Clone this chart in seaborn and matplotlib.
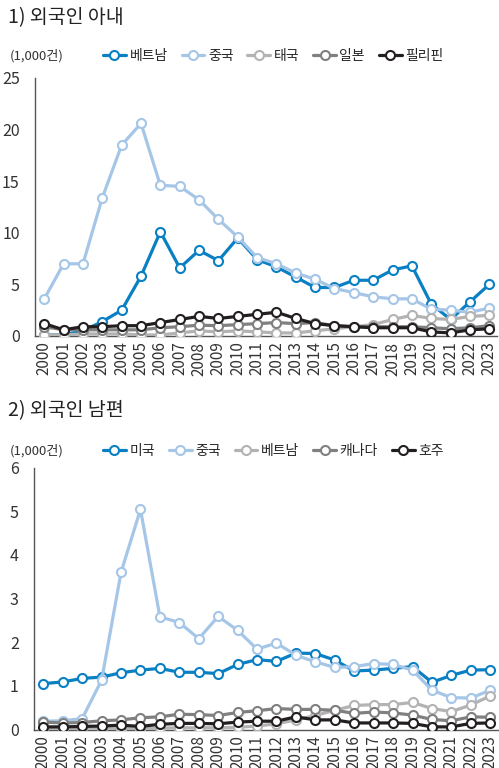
import numpy as np
import pandas as pd
import seaborn as sns
import matplotlib.pyplot as plt

# Data (단위: 1,000건)
years = list(range(2000, 2024))
year_labels = [str(y) for y in years]

wife_names = ['베트남', '중국', '태국', '일본', '필리핀']
wife_vietnam = [0.1, 0.1, 0.5, 1.4, 2.5, 5.8, 10.1, 6.6, 8.3, 7.3, 9.5, 7.4,
                6.7, 5.7, 4.7, 4.7, 5.4, 5.4, 6.4, 6.8, 3.1, 1.6, 3.3, 5.0]
wife_china = [3.6, 7.0, 7.0, 13.4, 18.5, 20.6, 14.6, 14.5, 13.2, 11.3, 9.6, 7.6,
              7.0, 6.1, 5.5, 4.6, 4.2, 3.8, 3.6, 3.6, 2.6, 2.5, 2.3, 2.7]
wife_thai = [0.1, 0.1, 0.2, 0.2, 0.2, 0.1, 0.1, 0.3, 0.5, 0.4, 0.5, 0.4,
             0.3, 0.3, 0.5, 0.7, 0.9, 1.1, 1.6, 2.0, 1.7, 1.6, 1.9, 2.0]
wife_japan = [0.9, 0.6, 0.6, 0.6, 0.6, 0.6, 0.8, 0.9, 1.05, 1.0, 1.1, 1.2,
              1.3, 1.2, 1.3, 1.0, 0.9, 0.9, 0.9, 0.9, 0.8, 0.7, 0.8, 1.0]
wife_philippines = [1.2, 0.6, 0.9, 0.9, 1.0, 1.0, 1.3, 1.6, 1.9, 1.7, 1.9, 2.1,
                    2.3, 1.7, 1.2, 1.0, 0.9, 0.8, 0.8, 0.8, 0.4, 0.3, 0.6, 0.7]

husband_names = ['미국', '중국', '베트남', '캐나다', '호주']
husband_usa = [1.05, 1.09, 1.17, 1.20, 1.30, 1.36, 1.40, 1.31, 1.31, 1.28, 1.49, 1.60,
               1.56, 1.75, 1.74, 1.59, 1.34, 1.36, 1.40, 1.44, 1.08, 1.24, 1.36, 1.37]
husband_china = [0.19, 0.20, 0.25, 1.13, 3.60, 5.04, 2.58, 2.45, 2.08, 2.59, 2.27, 1.84,
                 1.98, 1.70, 1.55, 1.42, 1.44, 1.51, 1.49, 1.36, 0.90, 0.73, 0.72, 0.90]
husband_vietnam = [0.02, 0.02, 0.03, 0.03, 0.02, 0.02, 0.03, 0.04, 0.04, 0.04, 0.05, 0.08,
                   0.13, 0.22, 0.32, 0.44, 0.55, 0.57, 0.57, 0.62, 0.48, 0.41, 0.56, 0.77]
husband_canada = [0.17, 0.15, 0.16, 0.20, 0.22, 0.27, 0.29, 0.35, 0.34, 0.32, 0.39, 0.43,
                  0.48, 0.46, 0.46, 0.44, 0.37, 0.40, 0.38, 0.33, 0.23, 0.20, 0.29, 0.28]
husband_australia = [0.06, 0.06, 0.07, 0.08, 0.10, 0.07, 0.12, 0.14, 0.14, 0.13, 0.17, 0.19,
                     0.19, 0.29, 0.22, 0.22, 0.15, 0.15, 0.15, 0.14, 0.06, 0.06, 0.14, 0.15]

colors = ['#0a80c4', '#a6c6e8', '#b3b3b3', '#808080', '#231f20']

sns.set_style('white')
plt.rcParams['font.family'] = ['Noto Sans CJK KR', 'DejaVu Sans']
num_font = ['Liberation Sans Narrow', 'Noto Sans CJK KR']

fig = plt.figure(figsize=(4.99, 7.68), dpi=100)
W, H = 499, 768


def draw_panel(rect, names, series, ymax, title, title_y, legend_y):
    ax = fig.add_axes(rect)
    for i, (name, vals) in enumerate(zip(names, series)):
        sns.lineplot(x=years, y=vals, color=colors[i], linewidth=2.3,
                     marker='o', markersize=6.5, markerfacecolor='white',
                     markeredgecolor=colors[i], markeredgewidth=1.5,
                     label=name, zorder=3 + i, ax=ax)
    ax.set_xlim(1999.52, 2023.4)
    ax.set_ylim(0, ymax)
    ax.set_xticks(years)
    ax.set_xticklabels(year_labels, rotation=90, fontsize=11, family=num_font)
    ax.set_yticks(range(0, ymax + 1, 5 if ymax > 10 else 1))
    ax.set_yticklabels([str(v) for v in ax.get_yticks().astype(int)],
                       fontsize=11.5, family=num_font)
    ax.tick_params(axis='x', length=3, width=0.8, pad=1, color='#444444', colors='#333333')
    ax.tick_params(axis='y', length=0, pad=11, colors='#333333')
    for s in ['top', 'right']:
        ax.spines[s].set_visible(False)
    for s in ['left', 'bottom']:
        ax.spines[s].set_color('#555555')
        ax.spines[s].set_linewidth(1.0)
    ax.set_xlabel('')
    ax.set_ylabel('')
    handles, labels = ax.get_legend_handles_labels()
    ax.get_legend().remove()
    fig.legend(handles, labels, loc='center left', ncol=5, frameon=False,
               bbox_to_anchor=(103 / W, 1 - legend_y / H), fontsize=10,
               handlelength=1.65, handletextpad=0.25, columnspacing=1.0,
               borderaxespad=0, borderpad=0)
    fig.text(8 / W, 1 - title_y / H, title, fontsize=14, va='center', ha='left',
             color='#222222')
    fig.text(10 / W, 1 - legend_y / H, '(1,000건)', fontsize=9.5, va='center',
             ha='left', color='#333333')
    return ax


draw_panel([35 / W, 1 - 336 / H, 462 / W, 258 / H], wife_names,
           [wife_vietnam, wife_china, wife_thai, wife_japan, wife_philippines],
           25, '1) 외국인 아내', 18, 56)
draw_panel([34 / W, 1 - 729.5 / H, 464 / W, 262 / H], husband_names,
           [husband_usa, husband_china, husband_vietnam, husband_canada, husband_australia],
           6, '2) 외국인 남편', 411, 451)

fig.savefig('out.png', dpi=100)
